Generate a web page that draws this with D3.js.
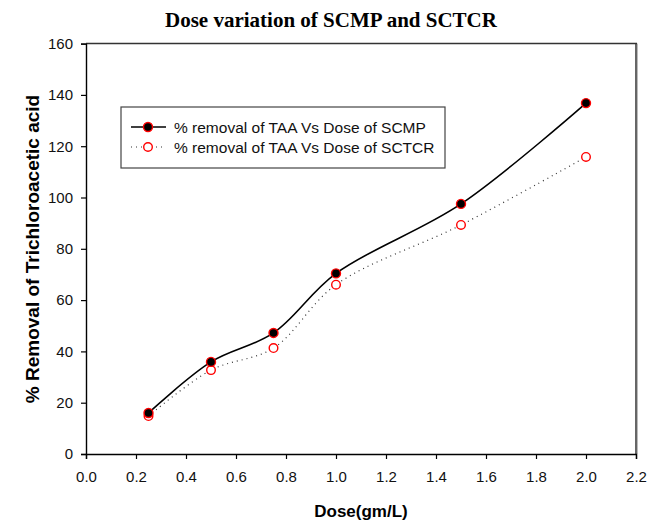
<!DOCTYPE html>
<html><head><meta charset="utf-8">
<script src="https://cdn.jsdelivr.net/npm/d3@7"></script>
<style>body{margin:0;background:#fff}svg{display:block}</style>
</head><body>
<svg id="c" width="663" height="525"></svg>
<script>
const doses = [0.25, 0.5, 0.75, 1.0, 1.5, 2.0];
const scmp = [16.0, 35.9, 47.2, 70.4, 97.5, 136.8];
const sctcr = [14.8, 32.7, 41.3, 66.0, 89.3, 115.8];
const xTicks = [0.0,0.2,0.4,0.6,0.8,1.0,1.2,1.4,1.6,1.8,2.0,2.2];
const yTicks = [0,20,40,60,80,100,120,140,160];
const seriesNames = ["% removal of TAA Vs Dose of SCMP", "% removal of TAA Vs Dose of SCTCR"];

const svg = d3.select("#c");
const L=86, R=636, T=43.6, B=454;
const x = d3.scaleLinear().domain([0,2.2]).range([L,R]);
const y = d3.scaleLinear().domain([0,160]).range([B,T]);

// frame top/right
svg.append("line").attr("x1",L).attr("x2",R+1).attr("y1",T).attr("y2",T).attr("stroke","#333").attr("stroke-width",1.5);
svg.append("line").attr("x1",R).attr("x2",R).attr("y1",T).attr("y2",B).attr("stroke","#333").attr("stroke-width",1.5);
svg.append("line").attr("x1",R+1.5).attr("x2",R+1.5).attr("y1",T).attr("y2",B).attr("stroke","#bbb").attr("stroke-width",1);

const xAxis = svg.append("g").attr("transform",`translate(0,${B})`)
  .call(d3.axisBottom(x).tickValues(xTicks).tickFormat(d3.format(".1f")).tickSizeOuter(0).tickSize(5).tickPadding(12));
const yAxis = svg.append("g").attr("transform",`translate(${L},0)`)
  .call(d3.axisLeft(y).tickValues(yTicks).tickSizeOuter(0).tickSize(5).tickPadding(8));
[xAxis,yAxis].forEach(g=>{
  g.selectAll("text").attr("font-family","Liberation Sans, Arial, sans-serif").attr("font-size",15).attr("fill","#111");
  g.selectAll("line").attr("stroke","#000").attr("stroke-width",1.2);
  g.select(".domain").attr("stroke","#000").attr("stroke-width",1.4);
});

// lines
const line = d3.line().x(d=>x(d[0])).y(d=>y(d[1])).curve(d3.curveCatmullRom.alpha(0.5));
svg.append("path").datum(doses.map((d,i)=>[d,sctcr[i]])).attr("d",line)
  .attr("fill","none").attr("stroke","#333").attr("stroke-width",1.2).attr("stroke-dasharray","1,4");
svg.append("path").datum(doses.map((d,i)=>[d,scmp[i]])).attr("d",line)
  .attr("fill","none").attr("stroke","#000").attr("stroke-width",1.6);

svg.append("g").selectAll("circle").data(doses.map((d,i)=>[d,sctcr[i]])).join("circle")
  .attr("cx",d=>x(d[0])).attr("cy",d=>y(d[1])).attr("r",4.3)
  .attr("fill","#fff").attr("stroke","#f00").attr("stroke-width",1.4);
svg.append("g").selectAll("circle").data(doses.map((d,i)=>[d,scmp[i]])).join("circle")
  .attr("cx",d=>x(d[0])).attr("cy",d=>y(d[1])).attr("r",4.5)
  .attr("fill","#000").attr("stroke","#f00").attr("stroke-width",1.4);

// legend
const lg = svg.append("g");
lg.append("rect").attr("x",121).attr("y",107).attr("width",324).attr("height",61)
  .attr("fill","#fff").attr("stroke","#444").attr("stroke-width",1.2);
lg.append("line").attr("x1",131).attr("x2",166).attr("y1",127).attr("y2",127).attr("stroke","#000").attr("stroke-width",1.6);
lg.append("circle").attr("cx",148).attr("cy",127).attr("r",4.5).attr("fill","#000").attr("stroke","#f00").attr("stroke-width",1.4);
lg.append("line").attr("x1",131).attr("x2",166).attr("y1",147).attr("y2",147).attr("stroke","#333").attr("stroke-width",1.2).attr("stroke-dasharray","1,4");
lg.append("circle").attr("cx",148).attr("cy",147).attr("r",4.3).attr("fill","#fff").attr("stroke","#f00").attr("stroke-width",1.4);
seriesNames.forEach((n,i)=>{
  lg.append("text").attr("x",174).attr("y",133+i*20).text(n)
    .attr("font-family","Liberation Sans, Arial, sans-serif").attr("font-size",15.5).attr("fill","#111");
});

// titles
svg.append("text").attr("x",331).attr("y",27).attr("text-anchor","middle").text("Dose variation of SCMP and SCTCR")
  .attr("font-family","Liberation Serif, Times New Roman, serif").attr("font-weight","bold").attr("font-size",21).attr("fill","#000");
svg.append("text").attr("x",361).attr("y",517).attr("text-anchor","middle").text("Dose(gm/L)")
  .attr("font-family","Liberation Sans, Arial, sans-serif").attr("font-weight","bold").attr("font-size",17).attr("fill","#000");
svg.append("text").attr("transform","translate(39,249) rotate(-90)").attr("text-anchor","middle").text("% Removal of Trichloroacetic acid")
  .attr("font-family","Liberation Sans, Arial, sans-serif").attr("font-weight","bold").attr("font-size",19).attr("fill","#000");
</script>
</body></html>
